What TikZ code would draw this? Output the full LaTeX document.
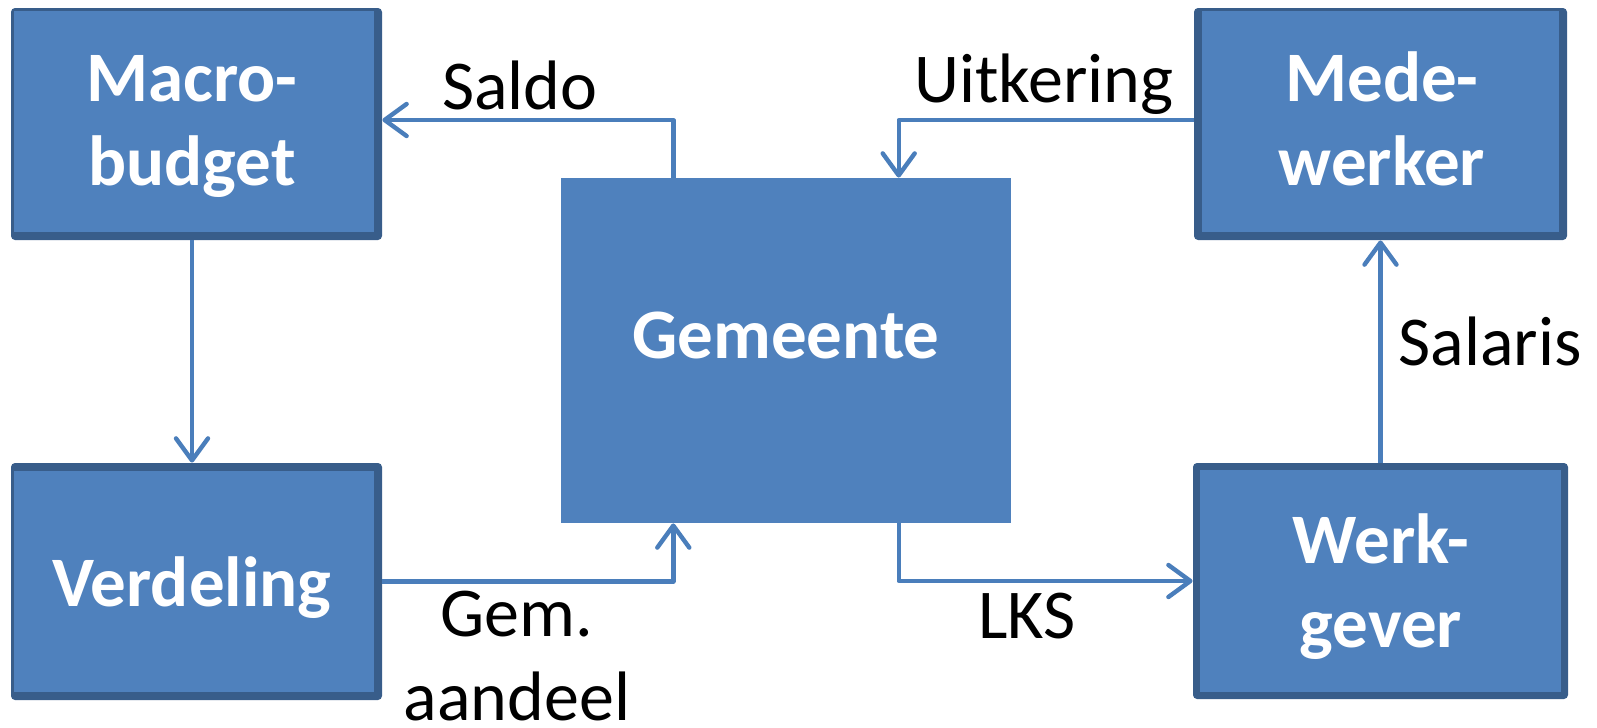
\documentclass[tikz,border=0pt]{standalone}
\usepackage{fontspec}
\setmainfont{Carlito}
\usetikzlibrary{arrows.meta,calc,fit}
\definecolor{boxfill}{HTML}{4F81BD}
\definecolor{boxline}{HTML}{385D8A}
\definecolor{conncol}{HTML}{4A7EBB}
\begin{document}
\begin{tikzpicture}[x=0.5pt,y=-0.5pt,
  outerbox/.style={fill=boxline, inner sep=0pt, rounded corners=2pt},
  innerbox/.style={fill=boxfill, inner sep=0pt},
  boxtext/.style={text=white, font=\fontsize{35.5}{42}\selectfont\bfseries, align=center, inner sep=0pt, anchor=base},
  lbl/.style={text=black, font=\fontsize{35}{42}\selectfont, align=center, inner sep=0pt, anchor=base},
  conn/.style={draw=conncol, line width=2.2pt, line join=round, -{Straight Barb[length=11pt,width=16pt,round]}}]
\fill[white] (0,0) rectangle (1597,728);
\useasboundingbox (0,0) rectangle (1597,728);

% boxes
\node[outerbox, fit={(11,8) (382,240)}] (macro) {};
\node[innerbox, fit={(14,11) (374,232)}] (macroin) {};
\node[outerbox, fit={(11,463) (382,700)}] (verd) {};
\node[innerbox, fit={(14,471) (374,692)}] (verdin) {};
\node[outerbox, fit={(1194,8) (1567,240)}] (mede) {};
\node[innerbox, fit={(1202,11) (1559,232)}] (medein) {};
\node[outerbox, fit={(1193,463) (1568,699)}] (werk) {};
\node[innerbox, fit={(1200,470) (1561,692)}] (werkin) {};
\node[innerbox, fit={(561,178) (1011,523)}] (gem) {};

% box texts (base = last line)
\node[boxtext] (macrot) at (192,185) {Macro-\\budget};
\node[boxtext] (verdt) at (192,606) {Verdeling};
\node[boxtext] (medet) at (1382,185) {Mede-\\werker};
\node[boxtext] (werkt) at (1381,647) {Werk-\\gever};
\node[boxtext] (gemt) at (786,358) {Gemeente};

% connectors
\draw[conn] ($(gem.north west)!0.25!(gem.north east)$) |- ([yshift=2pt]macro.east);
\draw[conn] ([yshift=2pt]mede.west) -| ($(gem.north west)!0.75!(gem.north east)$);
\draw[conn] ([xshift=-2.25pt]macro.south) -- ([xshift=-2.25pt]verd.north);
\draw[conn] (verd.east) -| ($(gem.south west)!0.25!(gem.south east)$);
\draw[conn] ($(gem.south west)!0.75!(gem.south east)$) |- (werk.west);
\draw[conn] (werk.north) -- (mede.south);

% labels
\node[lbl] (saldo) at (520,109) {Saldo};
\node[lbl] (uitk) at (1044,102) {Uitkering};
\node[lbl] (sal) at (1490,365) {Salaris};
\node[lbl] (lks) at (1027,638) {LKS};
\node[lbl, text depth=0pt] (gema) at (517,720) {Gem.\\aandeel};
\end{tikzpicture}
\end{document}
